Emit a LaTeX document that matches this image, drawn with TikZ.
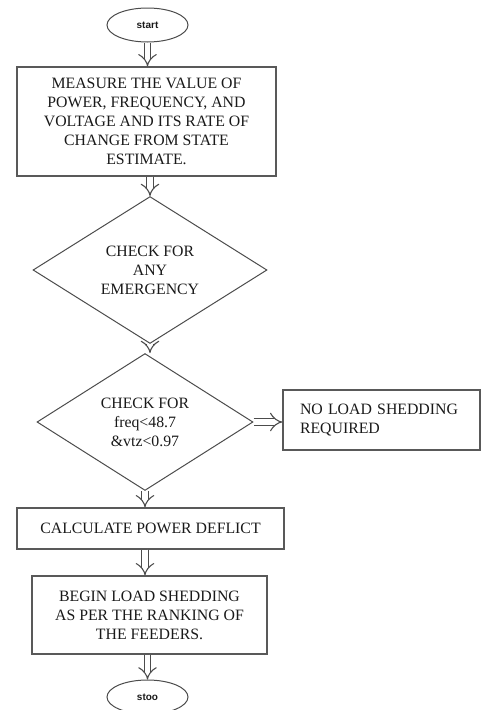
\documentclass[tikz,border=0pt]{standalone}
\usepackage{fontspec}
\setmainfont{Liberation Serif}
\newfontfamily\ovalfont{Liberation Sans}
\usetikzlibrary{shapes.geometric,arrows.meta}
\begin{document}
\begin{tikzpicture}[x=1pt,y=-1pt,
  every node/.style={text=black!90},
  boxtxt/.style={font=\fontsize{15.8}{19}\selectfont},
  procbox/.style={draw=black!65,line width=1.3pt,rectangle,inner sep=0pt,align=center,boxtxt},
  decbox/.style={draw=black!70,line width=1pt,diamond,inner sep=0pt,align=center,boxtxt},
  termbox/.style={draw=black!70,line width=1pt,ellipse,inner sep=0pt,minimum width=81pt,minimum height=34pt,font=\ovalfont\bfseries\fontsize{10}{11}\selectfont},
  flowarrow/.style={draw=black!70,line width=1.1pt,double distance=5.5pt,-{Implies}}
]
\useasboundingbox (0,0) rectangle (481,710);
\node[termbox] (start) at (147.5,25) {start};
\node[procbox,minimum width=259pt,minimum height=109pt] (measure) at (146.5,121.5)
  {MEASURE THE VALUE OF\\POWER, FREQUENCY, AND\\VOLTAGE AND ITS RATE OF\\CHANGE FROM STATE\\ESTIMATE.};
\node[decbox,minimum width=234pt,minimum height=136pt] (emerg) at (150,270)
  {CHECK FOR\\ANY\\EMERGENCY};
\node[decbox,minimum width=216pt,minimum height=114pt] (check) at (145,422)
  {CHECK FOR\\freq<48.7\\\&vtz<0.97};
\node[procbox,minimum width=197pt,minimum height=60pt,text width=163pt,align=left,inner xsep=17pt] (noload) at (381.5,420)
  {NO LOAD SHEDDING\\REQUIRED};
\node[procbox,minimum width=267pt,minimum height=41pt] (calc) at (150.5,528.5)
  {CALCULATE POWER DEFLICT};
\node[procbox,minimum width=235pt,minimum height=78pt] (begin) at (149.5,615)
  {BEGIN LOAD SHEDDING\\AS PER THE RANKING OF\\THE FEEDERS.};
\node[termbox] (stop) at (147.5,697) {stoo};
\draw[flowarrow] (start.south) -- (start.south |- measure.north);
\draw[flowarrow] (emerg.north |- measure.south) -- (emerg.north);
\draw[flowarrow] (emerg.south) -- (check.north -| emerg.south);
\draw[flowarrow] (check.east) -- (check.east -| noload.west);
\draw[flowarrow] (check.south) -- (check.south |- calc.north);
\draw[flowarrow] (check.south |- calc.south) -- (check.south |- begin.north);
\draw[flowarrow] (stop.north |- begin.south) -- (stop.north);
\end{tikzpicture}
\end{document}
